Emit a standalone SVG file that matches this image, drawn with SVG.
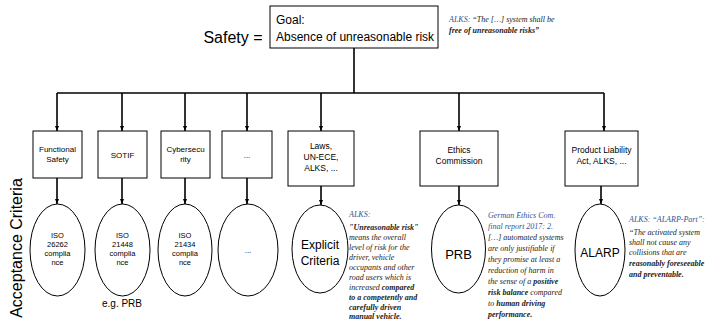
<svg xmlns="http://www.w3.org/2000/svg" width="719" height="329" viewBox="0 0 719 329">
<style>
.box{fill:#fff;stroke:#000;stroke-width:1}
.ell{fill:#fff;stroke:#000;stroke-width:1}
.s{font-family:"Liberation Sans",Arial,sans-serif;fill:#000;text-anchor:middle}
.q{font-family:"Liberation Serif","Times New Roman",serif;font-style:italic;font-size:8px;fill:#222}
.b{font-weight:bold}
.blue{fill:#2f5496}
.con{stroke:#000;stroke-width:1.6;fill:none}
</style>
<defs>
<marker id="a" viewBox="0 0 10 10" refX="10" refY="5" markerWidth="5" markerHeight="5" orient="auto" markerUnits="userSpaceOnUse">
<path d="M0,1 L10,5 L0,9 z" fill="#000"/>
</marker>
</defs>

<text class="s" x="233" y="43" font-size="16">Safety =</text>
<text class="s" x="17" y="248" font-size="16" transform="rotate(-90 17 248)" dy="5">Acceptance Criteria</text>

<g id="goal">
<rect class="box" x="270" y="6" width="168" height="42"/>
<text class="s" x="276" y="24" font-size="12" style="text-anchor:start">Goal:</text>
<text class="s" x="276" y="41" font-size="12" style="text-anchor:start">Absence of unreasonable risk</text>
</g>
<g id="goal-note">
<text class="q" x="449" y="22"><tspan class="blue">ALKS:</tspan>  “The […] system shall be</text>
<text class="q b" x="449" y="33">free of unreasonable risks”</text>
</g>

<g id="connectors">
<path class="con" d="M354,48 V93"/>
<path class="con" d="M57,93 H604"/>
<path class="con" d="M57,93 V131" marker-end="url(#a)"/>
<path class="con" d="M122,93 V131" marker-end="url(#a)"/>
<path class="con" d="M185,93 V131" marker-end="url(#a)"/>
<path class="con" d="M247,93 V131" marker-end="url(#a)"/>
<path class="con" d="M321,93 V131" marker-end="url(#a)"/>
<path class="con" d="M459,93 V131" marker-end="url(#a)"/>
<path class="con" d="M604,93 V131" marker-end="url(#a)"/>
<path class="con" d="M57,178 V204" marker-end="url(#a)"/>
<path class="con" d="M122,178 V204" marker-end="url(#a)"/>
<path class="con" d="M185,178 V204" marker-end="url(#a)"/>
<path class="con" d="M247,178 V204" marker-end="url(#a)"/>
<path class="con" d="M321,186 V205" marker-end="url(#a)"/>
<path class="con" d="M459,186 V205" marker-end="url(#a)"/>
<path class="con" d="M601,186 V204" marker-end="url(#a)"/>
</g>

<g id="n-fs">
<rect class="box" x="33" y="131" width="49" height="47"/>
<text class="s" x="57.5" y="152" font-size="8">Functional</text>
<text class="s" x="57.5" y="162" font-size="8">Safety</text>
</g>
<g id="n-sotif">
<rect class="box" x="98" y="131" width="49" height="47"/>
<text class="s" x="122.5" y="158" font-size="8">SOTIF</text>
</g>
<g id="n-cyber">
<rect class="box" x="161" y="131" width="49" height="47"/>
<text class="s" x="185.5" y="152" font-size="8">Cybersecu</text>
<text class="s" x="185.5" y="162" font-size="8">rity</text>
</g>
<g id="n-dots">
<rect class="box" x="222" y="131" width="50" height="47"/>
<text class="s" x="247" y="158" font-size="8">...</text>
</g>
<g id="n-laws">
<rect class="box" x="288" y="131" width="66" height="55"/>
<text class="s" x="321" y="149" font-size="8.5">Laws,</text>
<text class="s" x="321" y="160" font-size="8.5">UN-ECE,</text>
<text class="s" x="321" y="171" font-size="8.5">ALKS, ...</text>
</g>
<g id="n-ethics">
<rect class="box" x="420" y="131" width="78" height="55"/>
<text class="s" x="459" y="153" font-size="8.5">Ethics</text>
<text class="s" x="459" y="164" font-size="8.5">Commission</text>
</g>
<g id="n-pl">
<rect class="box" x="565" y="131" width="73" height="55"/>
<text class="s" x="601.5" y="153" font-size="8.5">Product Liability</text>
<text class="s" x="601.5" y="164" font-size="8.5">Act, ALKS, ...</text>
</g>

<g id="e-iso26262">
<ellipse class="ell" cx="57.5" cy="250" rx="27.5" ry="46"/>
<text class="s" x="57.5" y="238" font-size="7.5">ISO</text>
<text class="s" x="57.5" y="247" font-size="7.5">26262</text>
<text class="s" x="57.5" y="256" font-size="7.5">complia</text>
<text class="s" x="57.5" y="265" font-size="7.5">nce</text>
</g>
<g id="e-iso21448">
<ellipse class="ell" cx="122.5" cy="250" rx="27.5" ry="46"/>
<text class="s" x="122.5" y="238" font-size="7.5">ISO</text>
<text class="s" x="122.5" y="247" font-size="7.5">21448</text>
<text class="s" x="122.5" y="256" font-size="7.5">complia</text>
<text class="s" x="122.5" y="265" font-size="7.5">nce</text>
</g>
<text class="s" x="122" y="307" font-size="10">e.g. PRB</text>
<g id="e-iso21434">
<ellipse class="ell" cx="185" cy="250" rx="27" ry="46"/>
<text class="s" x="185" y="238" font-size="7.5">ISO</text>
<text class="s" x="185" y="247" font-size="7.5">21434</text>
<text class="s" x="185" y="256" font-size="7.5">complia</text>
<text class="s" x="185" y="265" font-size="7.5">nce</text>
</g>
<g id="e-dots">
<ellipse class="ell" cx="248" cy="250" rx="30" ry="46"/>
<text class="s" x="248" y="253" font-size="8">...</text>
</g>
<g id="e-explicit">
<ellipse class="ell" cx="320" cy="249" rx="28" ry="44"/>
<text class="s" x="320" y="249" font-size="12">Explicit</text>
<text class="s" x="320" y="265" font-size="12">Criteria</text>
</g>
<g id="e-prb">
<ellipse class="ell" cx="458.5" cy="249" rx="27" ry="44"/>
<text class="s" x="458.5" y="259" font-size="13">PRB</text>
</g>
<g id="e-alarp">
<ellipse class="ell" cx="600" cy="250" rx="25" ry="46"/>
<text class="s" x="600" y="257" font-size="12">ALARP</text>
</g>

<g id="note-explicit">
<text class="q blue" x="349" y="217">ALKS:</text>
<text class="q b" x="349" y="230">"Unreasonable risk"</text>
<text class="q" x="349" y="240">means the overall</text>
<text class="q" x="349" y="250">level of risk for the</text>
<text class="q" x="349" y="260">driver, vehicle</text>
<text class="q" x="349" y="270">occupants and other</text>
<text class="q" x="349" y="280">road users which is</text>
<text class="q" x="349" y="290">increased <tspan class="b">compared</tspan></text>
<text class="q b" x="349" y="300">to a competently and</text>
<text class="q b" x="349" y="310">carefully driven</text>
<text class="q b" x="349" y="319">manual vehicle.</text>
</g>
<g id="note-prb">
<text class="q blue" x="488" y="218">German Ethics Com.</text>
<text class="q blue" x="488" y="229">final report 2017: 2.</text>
<text class="q" x="488" y="240">[…] automated systems</text>
<text class="q" x="488" y="251">are only justifiable if</text>
<text class="q" x="488" y="262">they promise at least a</text>
<text class="q" x="488" y="273">reduction of harm in</text>
<text class="q" x="488" y="284">the sense of a <tspan class="b">positive</tspan></text>
<text class="q" x="488" y="295"><tspan class="b">risk balance</tspan> compared</text>
<text class="q" x="488" y="306">to <tspan class="b">human driving</tspan></text>
<text class="q b" x="488" y="317">performance.</text>
</g>
<g id="note-alarp">
<text class="q blue" x="629" y="222" font-size="8.5">ALKS: “ALARP-Part”:</text>
<text class="q" x="629" y="235">“The activated system</text>
<text class="q" x="629" y="245">shall not cause any</text>
<text class="q" x="629" y="255">collisions that are</text>
<text class="q b" x="629" y="266">reasonably foreseeable</text>
<text class="q b" x="629" y="277">and preventable.</text>
</g>
</svg>
